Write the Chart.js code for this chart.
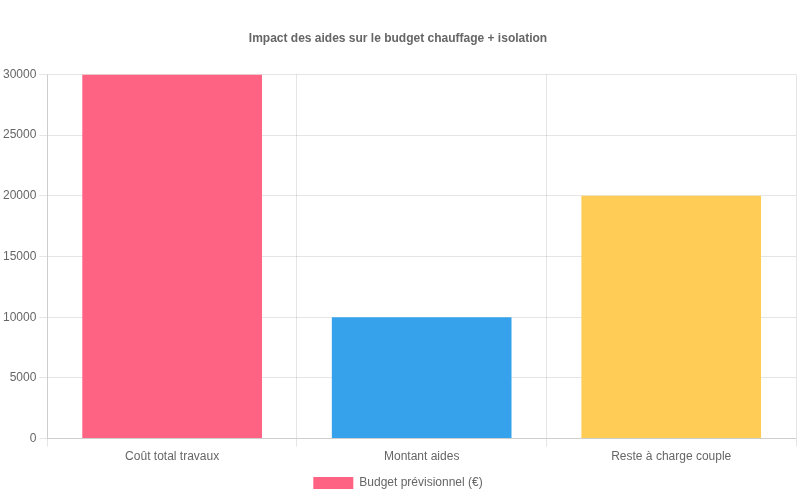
<!DOCTYPE html>
<html>
<head>
<meta charset="utf-8">
<script src="https://cdn.jsdelivr.net/npm/chart.js@4"></script>
<style>
  html, body { margin: 0; padding: 0; background: #fff; }
  #wrap { width: 800px; height: 500px; }
</style>
</head>
<body>
<div id="wrap"><canvas id="c"></canvas></div>
<script>
// Données du graphique
const categories = ["Coût total travaux", "Montant aides", "Reste à charge couple"];
const budgetValues = [30000, 10000, 20000];
const barColors = ["#ff6384", "#36a2eb", "#ffcd56"];
const seriesLabel = "Budget prévisionnel (€)";

Chart.defaults.font.family = "'Liberation Sans', Arial, sans-serif";
Chart.defaults.color = "#666";

new Chart(document.getElementById("c"), {
    type: "bar",
    data: {
        labels: categories,
        datasets: [{
            label: seriesLabel,
            data: budgetValues,
            backgroundColor: barColors
        }]
    },
    options: {
        responsive: true,
        maintainAspectRatio: false,
        animation: false,
        layout: { padding: { right: 4, bottom: 1 } },
        plugins: {
            title: {
                display: true,
                text: "Impact des aides sur le budget chauffage + isolation",
                font: { size: 12, weight: "bold" },
                padding: { top: 31, bottom: 29 }
            },
            legend: {
                position: "bottom",
                labels: { boxWidth: 40, font: { size: 12 } }
            }
        },
        scales: {
            y: {
                min: 0,
                max: 30000,
                ticks: { stepSize: 5000, callback: v => String(v) }
            }
        }
    }
});
</script>
</body>
</html>
